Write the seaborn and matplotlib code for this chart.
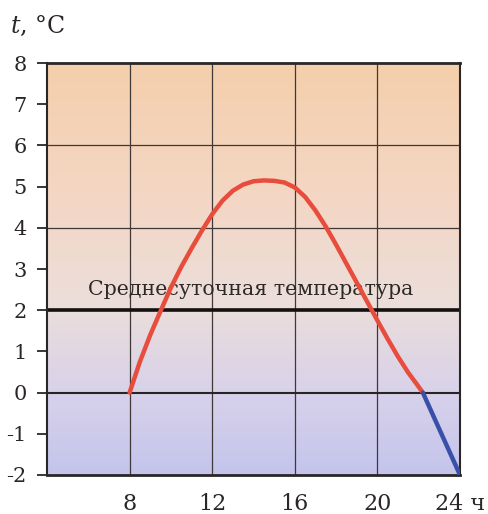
import numpy as np
import pandas as pd
import matplotlib
matplotlib.use("Agg")
import matplotlib.pyplot as plt
from matplotlib.colors import LinearSegmentedColormap
import seaborn as sns

# Daytime temperature course (hours, °C)
warm_hours = [8, 8.5, 9, 9.5, 10, 10.5, 11, 11.5, 12, 12.5, 13, 13.5, 14, 14.5,
              15, 15.5, 16, 16.5, 17, 17.5, 18, 18.5, 19, 19.5, 20, 20.5, 21,
              21.5, 22, 22.2]
warm_temps = [0, 0.75, 1.4, 1.98, 2.55, 3.05, 3.5, 3.93, 4.33, 4.66, 4.9, 5.05,
              5.13, 5.15, 5.14, 5.1, 4.98, 4.75, 4.42, 4.03, 3.59, 3.13, 2.67,
              2.21, 1.75, 1.3, 0.87, 0.48, 0.14, 0]
# Night cooling below zero
cold_hours = [22.2, 24]
cold_temps = [0, -2]

mean_temp = 2
mean_label = "Среднесуточная температура"
x_ticks = [8, 12, 16, 20, 24]
x_tick_labels = ["8", "12", "16", "20", "24 ч"]
y_ticks = [-2, -1, 0, 1, 2, 3, 4, 5, 6, 7, 8]
y_tick_labels = ["-2", "-1", "0", "1", "2", "3", "4", "5", "6", "7", "8"]

sns.set_theme(style="white")
plt.rcParams["font.family"] = ["DejaVu Serif"]
plt.rcParams["mathtext.fontset"] = "dejavuserif"

fig = plt.figure(figsize=(4.89, 5.14), dpi=100)
fig.patch.set_facecolor("white")
ax = fig.add_axes([0.0961, 0.0759, 0.8446, 0.8015])

# warm-to-cold background gradient
bg = LinearSegmentedColormap.from_list(
    "bg",
    [(0.0, (196/255, 196/255, 236/255)),
     (0.2, (216/255, 210/255, 234/255)),
     (0.42, (236/255, 222/255, 218/255)),
     (0.65, (243/255, 215/255, 198/255)),
     (1.0, (245/255, 207/255, 172/255))])
grad = np.linspace(0, 1, 256).reshape(-1, 1)
ax.imshow(grad, cmap=bg, origin="lower", aspect="auto",
          extent=[4, 24, -2, 8], zorder=0)

grid_c = "#3f3836"
for xv in [8, 12, 16, 20]:
    ax.axvline(xv, color=grid_c, lw=0.9, zorder=1)
for yv in [4, 6]:
    ax.axhline(yv, color=grid_c, lw=0.9, zorder=1)
ax.axhline(0, color="#2a2424", lw=1.5, zorder=1)
ax.axhline(mean_temp, color="#141010", lw=2.6, zorder=2)

ax.text(13.85, mean_temp + 0.5, mean_label, ha="center", va="center",
        fontsize=14.8, color="#2d2929", zorder=3)

warm = pd.DataFrame({"hour": warm_hours, "temp": warm_temps})
cold = pd.DataFrame({"hour": cold_hours, "temp": cold_temps})
sns.lineplot(data=warm, x="hour", y="temp", ax=ax, color="#e84c3d", lw=3.2,
             sort=False, zorder=4, solid_capstyle="round",
             solid_joinstyle="round")
sns.lineplot(data=cold, x="hour", y="temp", ax=ax, color="#3a50a8", lw=3.2,
             sort=False, zorder=4, solid_capstyle="round")

ax.set_xlim(4, 24)
ax.set_ylim(-2, 8)
ax.set_xlabel("")
ax.set_ylabel("")
ax.set_xticks(x_ticks)
ax.set_xticklabels(x_tick_labels, fontsize=16, color="#2b2626")
ax.set_yticks(y_ticks)
ax.set_yticklabels(y_tick_labels, fontsize=15, color="#2b2626")
ax.tick_params(axis="y", direction="out", length=7.5, width=1.3,
               color="#2b2626", pad=7, left=True)
ax.tick_params(axis="x", length=0, pad=13)

for side in ["left", "right", "top", "bottom"]:
    ax.spines[side].set_visible(True)
    ax.spines[side].set_color("#2b2626")
    ax.spines[side].set_linewidth(1.5)
ax.spines["top"].set_linewidth(2)
ax.spines["bottom"].set_linewidth(2)

# axis unit label
fig.text(10 / 489, 1 - 26 / 514, "$t$, °C", fontsize=17, color="#2b2626",
         ha="left", va="center")

fig.savefig("out.png", dpi=100, facecolor="white")
